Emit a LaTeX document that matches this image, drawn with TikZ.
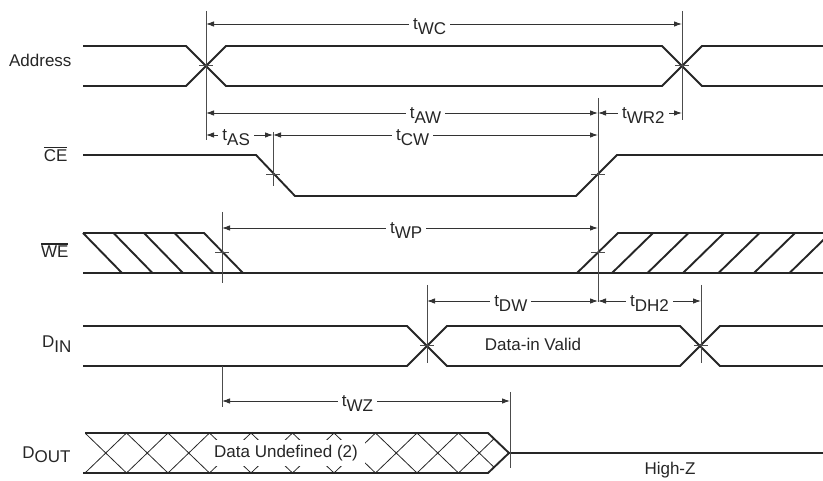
\documentclass[tikz,border=0pt]{standalone}
\usepackage{fontspec}
\setmainfont{Liberation Sans}
\usetikzlibrary{arrows.meta}
\newcommand\tsig[1]{t\raisebox{-5.5pt}{#1}}
\newcommand\sigbar[1]{\leavevmode\vbox{\hrule height 1.2pt \kern 1.8pt \hbox{#1}}}
\begin{document}
\begin{tikzpicture}[x=1pt, y=-1pt, font=\fontsize{17}{20}\selectfont, text=black!85,
          wave/.style={line width=1.9pt, draw=black!85},
          hatch/.style={line width=0.8pt, draw=black!85},
          guide/.style={line width=1pt, draw=black!70},
          dim/.style={line width=0.9pt, draw=black!80, {Latex[length=8pt,width=5.5pt]}-{Latex[length=8pt,width=5.5pt]}},
          lbl/.style={fill=white, inner xsep=4pt, inner ysep=1pt, yshift=-2.5pt},
          sig/.style={anchor=base east}]
\useasboundingbox (0,0) rectangle (823,481);
\clip (0,0) rectangle (823,481);
% signal names
\node[sig] (addr) at (75,67) {Address};
\node[sig] (ce) at (71,162) {\sigbar{CE}};
\node[sig] (we) at (72,258) {\sigbar{WE}};
\node[sig] (din) at (75,348) {D\raisebox{-5pt}{IN}};
\node[sig] (dout) at (74,458) {D\raisebox{-4pt}{OUT}};
% address
\draw[wave] (83,46) -- (186,46) -- (226,86) -- (662,86) -- (702,46) -- (823,46);
\draw[wave] (83,86) -- (186,86) -- (226,46) -- (662,46) -- (702,86) -- (823,86);
% chip enable
\draw[wave] (83,155) -- (256,155) -- (295,196) -- (576,196) -- (617,155) -- (823,155);
% write enable
\draw[wave] (83,273) -- (823,273);
\draw[wave] (83,233) -- (204,233) -- (243,273);
\draw[wave] (577,273) -- (618,233) -- (823,233);
\foreach \x in {83,113.5,144,174.5} \draw[wave] (\x,233) -- (\x+39,273);
\foreach \x in {612,647.5,683,718.5,754,789.5} \draw[wave] (\x,273) -- (\x+41,233);
% data in
\draw[wave] (83,326) -- (407,326) -- (447,366) -- (680,366) -- (720,326) -- (823,326);
\draw[wave] (83,366) -- (407,366) -- (447,326) -- (680,326) -- (720,366) -- (823,366);
\node (valid) at (533,344) {Data-in Valid};
% data out
\begin{scope}
  \clip (85,433) -- (488,433) -- (509,453) -- (488,473) -- (85,473) -- cycle;
  \foreach \x in {85,126.5,...,500} {
    \draw[hatch] (\x,433) -- (\x+41.5,473);
    \draw[hatch] (\x+41.5,433) -- (\x,473);
  }
\end{scope}
\node[fill=white, inner xsep=7pt, inner ysep=5pt] (undef) at (286,453) {Data Undefined (2)};
\draw[wave] (85,433) -- (488,433) -- (509,453) -- (488,473) -- (83,473);
\draw[wave] (509,453) -- (823,453);
\node (hiz) at (670,470) {High-Z};
% reference lines
\draw[guide] (206,11) -- (206,140);
\draw[guide] (682,11) -- (682,120);
\draw[guide] (273,132) -- (273,186);
\draw[guide] (598,98) -- (598,302);
\draw[guide] (222,212) -- (222,283);
\draw[guide] (222,366) -- (222,407);
\draw[guide] (427,285) -- (427,363);
\draw[guide] (701,285) -- (701,363);
\draw[guide] (510,392) -- (510,468);
\foreach \x/\y in {206/66, 682/66, 273/175, 598/175, 222/253, 598/253, 427/346, 701/346}
  \draw[guide] (\x-7,\y) -- (\x+7,\y);
% timing parameters
\foreach \n/\a/\b/\y/\p in {WC/206/682/24/0.47, AW/206/598/113/0.56, AS/206/273/135/0.45,
          CW/273/598/135/0.43, WR2/598/682/113/0.54, WP/222/598/228/0.49,
          DW/427/598/301/0.49, DH2/598/701/301/0.5, WZ/222/510/401/0.47} {
  \coordinate (\n-l) at (\a,\y);
  \coordinate (\n-r) at (\b,\y);
  \draw[dim] (\n-l) -- (\n-r) node[lbl, pos=\p] (t\n) {\tsig{\n}};
}
\end{tikzpicture}
\end{document}
